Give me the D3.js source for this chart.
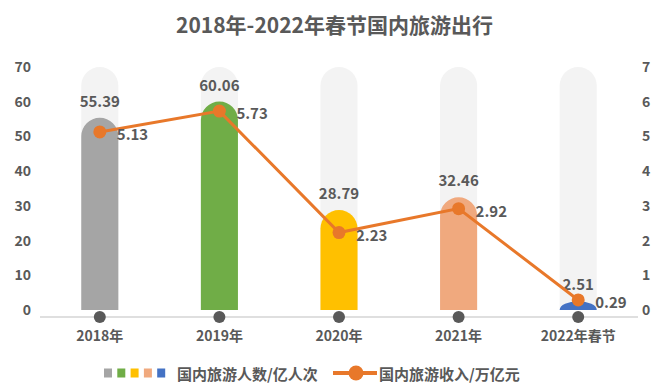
<!DOCTYPE html>
<html><head><meta charset="utf-8">
<script src="https://cdn.jsdelivr.net/npm/d3@7/dist/d3.min.js"></script>
<style>body{margin:0;background:#fff}svg{display:block}</style>
</head><body>
<svg id="chart" width="669" height="392"></svg>
<script>
const categories = ["2018年","2019年","2020年","2021年","2022年春节"];
const visitors = [55.39, 60.06, 28.79, 32.46, 2.51];   // 国内旅游人数/亿人次
const revenue = [5.13, 5.73, 2.23, 2.92, 0.29];        // 国内旅游收入/万亿元
const leftTicks = [0,10,20,30,40,50,60,70];
const rightTicks = [0,1,2,3,4,5,6,7];
const barColors = ["#A5A5A5","#70AD47","#FFC000","#F0A97E","#4472C4"];
const title = "2018年-2022年春节国内旅游出行";
const legendBar = "国内旅游人数/亿人次";
const legendLine = "国内旅游收入/万亿元";

const font = "'Noto Sans CJK SC','Noto Sans',sans-serif";
const txt = "#595959";
const lineColor = "#E8782A";
const svg = d3.select("#chart");

const x = d3.scaleBand().domain(categories).range([40, 638]).paddingInner(0.69).paddingOuter(0.345);
const yL = d3.scaleLinear().domain([0,70]).range([310, 67]);
const yR = d3.scaleLinear().domain([0,7]).range([310, 67]);
const cx = d => x(d) + x.bandwidth()/2;

// title
svg.append("text").attr("x", 334.5).attr("y", 24).attr("text-anchor","middle")
  .attr("dominant-baseline","central").attr("font-family",font).attr("font-size",21)
  .attr("font-weight","bold").attr("fill",txt).text(title);

function capsule(xl, w, yTop, yBase){
  const h = yBase - yTop;
  if (h <= 0) return "";
  const rx = w/2, ry = Math.min(w/2, h);
  return `M${xl},${yBase}V${yTop+ry}A${rx},${ry} 0 0 1 ${xl+w},${yTop+ry}V${yBase}Z`;
}

const bw = x.bandwidth();
// background capsules
svg.append("g").selectAll("path").data(categories).join("path")
  .attr("d", d => capsule(x(d), bw, yL(70), yL(0)))
  .attr("fill","#F3F3F3");

// bars
svg.append("g").selectAll("path").data(visitors).join("path")
  .attr("d", (v,i) => capsule(x(categories[i]), bw, yL(v), yL(0)))
  .attr("fill", (v,i) => barColors[i]);

// left axis
const axL = svg.append("g").attr("transform","translate(31,0)")
  .call(d3.axisLeft(yL).tickValues(leftTicks).tickSize(0).tickPadding(0).tickFormat(d3.format("d")));
axL.select(".domain").remove();
axL.selectAll("text").attr("font-family",font).attr("font-size",14).attr("fill",txt).attr("font-weight","600");

// right axis
const axR = svg.append("g").attr("transform","translate(642,0)")
  .call(d3.axisRight(yR).tickValues(rightTicks).tickSize(0).tickPadding(0).tickFormat(d3.format("d")));
axR.select(".domain").remove();
axR.selectAll("text").attr("font-family",font).attr("font-size",14).attr("fill",txt).attr("font-weight","600");

// x axis
const axB = svg.append("g").attr("transform","translate(0,317)")
  .call(d3.axisBottom(x).tickSize(0).tickPadding(14).tickSizeOuter(0));
axB.select(".domain").attr("stroke","#BFBFBF").attr("stroke-width",1.2)
  .attr("d","M40,0H638");
axB.selectAll("text").attr("font-family",font).attr("font-size",14).attr("fill",txt).attr("font-weight","600");
svg.append("g").selectAll("circle").data(categories).join("circle")
  .attr("cx", cx).attr("cy",317).attr("r",6).attr("fill","#595959");

// bar labels
svg.append("g").selectAll("text").data(visitors).join("text")
  .attr("x",(v,i)=>cx(categories[i])).attr("y",v=>yL(v)-11)
  .attr("text-anchor","middle").attr("font-family",font).attr("font-size",15)
  .attr("font-weight","600").attr("fill",txt).text(v=>v.toFixed(2));

// line
const line = d3.line().x((v,i)=>cx(categories[i])).y(v=>yR(v));
svg.append("path").datum(revenue).attr("d",line).attr("fill","none")
  .attr("stroke",lineColor).attr("stroke-width",3);
svg.append("g").selectAll("circle").data(revenue).join("circle")
  .attr("cx",(v,i)=>cx(categories[i])).attr("cy",v=>yR(v)).attr("r",6.5).attr("fill",lineColor);
svg.append("g").selectAll("text").data(revenue).join("text")
  .attr("x",(v,i)=>cx(categories[i])+17).attr("y",v=>yR(v)+4)
  .attr("dominant-baseline","middle").attr("font-family",font).attr("font-size",15)
  .attr("font-weight","600").attr("fill",txt).text(v=>v.toFixed(2));

// legend
const lg = svg.append("g");
barColors.forEach((c,i)=>{
  lg.append("rect").attr("x",104+i*13.3).attr("y",368.5).attr("width",8).attr("height",9).attr("fill",c);
});
lg.append("text").attr("x",177).attr("y",373).attr("dominant-baseline","central")
  .attr("font-family",font).attr("font-size",15).attr("font-weight","600").attr("fill",txt).text(legendBar);
lg.append("line").attr("x1",333).attr("x2",377).attr("y1",373).attr("y2",373)
  .attr("stroke",lineColor).attr("stroke-width",4);
lg.append("circle").attr("cx",356).attr("cy",373).attr("r",7.5).attr("fill",lineColor);
lg.append("text").attr("x",379).attr("y",373).attr("dominant-baseline","central")
  .attr("font-family",font).attr("font-size",15).attr("font-weight","600").attr("fill",txt).text(legendLine);
</script>
</body></html>
